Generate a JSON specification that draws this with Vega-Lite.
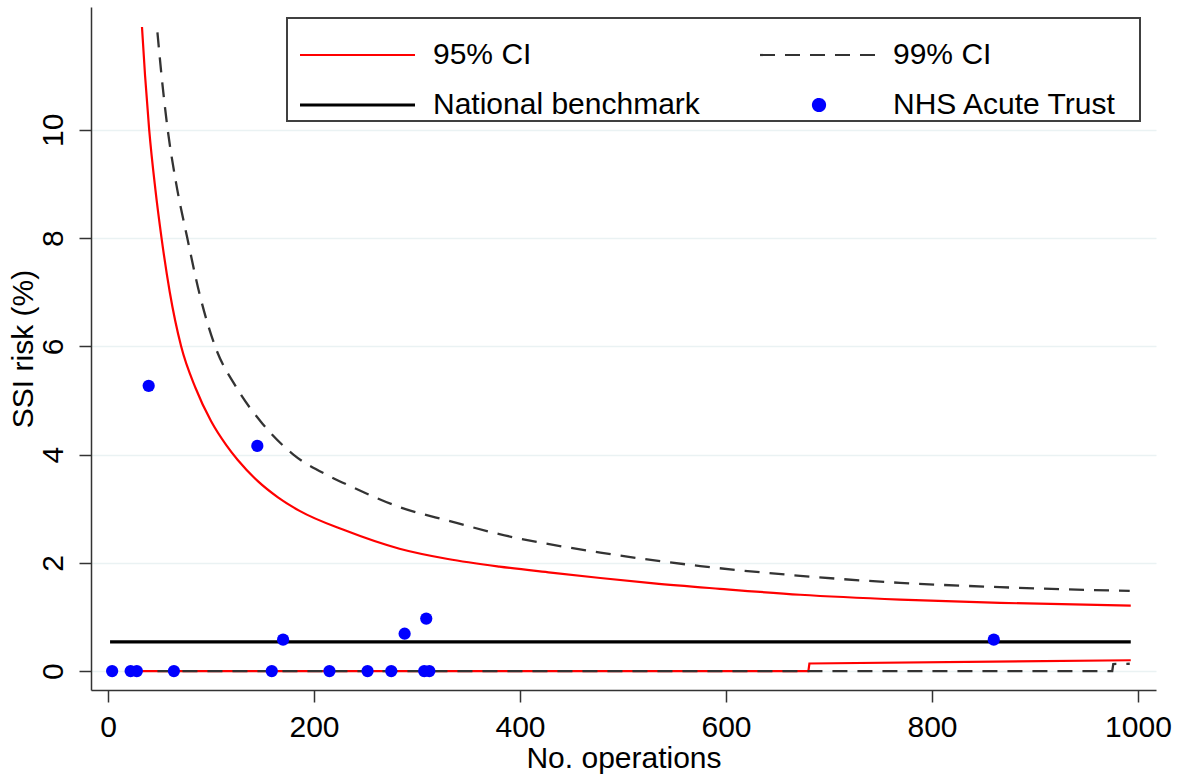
{
  "$schema": "https://vega.github.io/schema/vega-lite/v6.json",
  "width": 1065,
  "height": 683,
  "autosize": {"type": "none"},
  "padding": {"left": 91, "top": 7, "right": 22, "bottom": 88},
  "background": "white",
  "config": {"view": {"stroke": null}, "font": "Liberation Sans"},
  "datasets": {
    "ci95": [
      {"series": "95% CI", "part": "upper", "n": 33, "risk": 11.9},
      {"series": "95% CI", "part": "upper", "n": 36, "risk": 11.0},
      {"series": "95% CI", "part": "upper", "n": 40, "risk": 10.0},
      {"series": "95% CI", "part": "upper", "n": 46, "risk": 8.9},
      {"series": "95% CI", "part": "upper", "n": 52, "risk": 8.0},
      {"series": "95% CI", "part": "upper", "n": 60, "risk": 7.0},
      {"series": "95% CI", "part": "upper", "n": 71, "risk": 6.0},
      {"series": "95% CI", "part": "upper", "n": 85, "risk": 5.23},
      {"series": "95% CI", "part": "upper", "n": 100, "risk": 4.62},
      {"series": "95% CI", "part": "upper", "n": 115, "risk": 4.17},
      {"series": "95% CI", "part": "upper", "n": 126, "risk": 3.9},
      {"series": "95% CI", "part": "upper", "n": 146, "risk": 3.5},
      {"series": "95% CI", "part": "upper", "n": 165, "risk": 3.21},
      {"series": "95% CI", "part": "upper", "n": 186, "risk": 2.96},
      {"series": "95% CI", "part": "upper", "n": 230, "risk": 2.6},
      {"series": "95% CI", "part": "upper", "n": 283, "risk": 2.26},
      {"series": "95% CI", "part": "upper", "n": 330, "risk": 2.07},
      {"series": "95% CI", "part": "upper", "n": 380, "risk": 1.93},
      {"series": "95% CI", "part": "upper", "n": 430, "risk": 1.82},
      {"series": "95% CI", "part": "upper", "n": 478, "risk": 1.72},
      {"series": "95% CI", "part": "upper", "n": 530, "risk": 1.62},
      {"series": "95% CI", "part": "upper", "n": 594, "risk": 1.52},
      {"series": "95% CI", "part": "upper", "n": 672, "risk": 1.41},
      {"series": "95% CI", "part": "upper", "n": 769, "risk": 1.32},
      {"series": "95% CI", "part": "upper", "n": 866, "risk": 1.26},
      {"series": "95% CI", "part": "upper", "n": 993, "risk": 1.21},
      {"series": "95% CI", "part": "lower", "n": 33, "risk": 0},
      {"series": "95% CI", "part": "lower", "n": 680, "risk": 0},
      {"series": "95% CI", "part": "lower", "n": 681, "risk": 0.14},
      {"series": "95% CI", "part": "lower", "n": 993, "risk": 0.2}
    ],
    "ci99": [
      {"series": "99% CI", "part": "upper", "n": 48, "risk": 11.8},
      {"series": "99% CI", "part": "upper", "n": 52, "risk": 11.0},
      {"series": "99% CI", "part": "upper", "n": 58, "risk": 10.0},
      {"series": "99% CI", "part": "upper", "n": 66, "risk": 9.03},
      {"series": "99% CI", "part": "upper", "n": 77, "risk": 8.0},
      {"series": "99% CI", "part": "upper", "n": 89, "risk": 6.96},
      {"series": "99% CI", "part": "upper", "n": 104, "risk": 6.0},
      {"series": "99% CI", "part": "upper", "n": 125, "risk": 5.23},
      {"series": "99% CI", "part": "upper", "n": 150, "risk": 4.57},
      {"series": "99% CI", "part": "upper", "n": 180, "risk": 4.0},
      {"series": "99% CI", "part": "upper", "n": 214, "risk": 3.61},
      {"series": "99% CI", "part": "upper", "n": 235, "risk": 3.42},
      {"series": "99% CI", "part": "upper", "n": 283, "risk": 3.03},
      {"series": "99% CI", "part": "upper", "n": 332, "risk": 2.77},
      {"series": "99% CI", "part": "upper", "n": 380, "risk": 2.53},
      {"series": "99% CI", "part": "upper", "n": 478, "risk": 2.19},
      {"series": "99% CI", "part": "upper", "n": 575, "risk": 1.94},
      {"series": "99% CI", "part": "upper", "n": 672, "risk": 1.76},
      {"series": "99% CI", "part": "upper", "n": 769, "risk": 1.63},
      {"series": "99% CI", "part": "upper", "n": 866, "risk": 1.55},
      {"series": "99% CI", "part": "upper", "n": 992, "risk": 1.48},
      {"series": "99% CI", "part": "lower", "n": 48, "risk": 0},
      {"series": "99% CI", "part": "lower", "n": 975, "risk": 0},
      {"series": "99% CI", "part": "lower", "n": 976, "risk": 0.13},
      {"series": "99% CI", "part": "lower", "n": 992, "risk": 0.135}
    ],
    "bench": [
      {"series": "National benchmark", "n": 2, "risk": 0.54},
      {"series": "National benchmark", "n": 993, "risk": 0.54}
    ],
    "trusts": [
      {"series": "NHS Acute Trust", "n": 4, "risk": 0},
      {"series": "NHS Acute Trust", "n": 22, "risk": 0},
      {"series": "NHS Acute Trust", "n": 28, "risk": 0},
      {"series": "NHS Acute Trust", "n": 64, "risk": 0},
      {"series": "NHS Acute Trust", "n": 159, "risk": 0},
      {"series": "NHS Acute Trust", "n": 215, "risk": 0},
      {"series": "NHS Acute Trust", "n": 252, "risk": 0},
      {"series": "NHS Acute Trust", "n": 275, "risk": 0},
      {"series": "NHS Acute Trust", "n": 307, "risk": 0},
      {"series": "NHS Acute Trust", "n": 312, "risk": 0},
      {"series": "NHS Acute Trust", "n": 39.5, "risk": 5.27},
      {"series": "NHS Acute Trust", "n": 145, "risk": 4.16},
      {"series": "NHS Acute Trust", "n": 170, "risk": 0.58},
      {"series": "NHS Acute Trust", "n": 288, "risk": 0.69},
      {"series": "NHS Acute Trust", "n": 309, "risk": 0.97},
      {"series": "NHS Acute Trust", "n": 860, "risk": 0.58}
    ]
  },
  "encoding": {
    "x": {
      "field": "n", "type": "quantitative",
      "scale": {"domain": [-16.5, 1017.5], "nice": false, "zero": false},
      "axis": {
        "values": [0, 200, 400, 600, 800, 1000],
        "format": "d",
        "title": "No. operations",
        "titleFontSize": 30, "titleFontWeight": "normal", "titleColor": "black", "titlePadding": 1,
        "labelFontSize": 30, "labelColor": "black", "labelPadding": 10, "labelFlush": false,
        "tickSize": 12, "tickColor": "#333333", "tickWidth": 1.5,
        "domainColor": "#333333", "domainWidth": 1.5,
        "grid": false
      }
    },
    "y": {
      "field": "risk", "type": "quantitative",
      "scale": {"domain": [-0.35, 12.27], "nice": false, "zero": false},
      "axis": {
        "values": [0, 2, 4, 6, 8, 10],
        "title": "SSI risk (%)",
        "titleFontSize": 30, "titleFontWeight": "normal", "titleColor": "black", "titlePadding": 0,
        "labelFontSize": 30, "labelColor": "black", "labelAngle": 270, "labelAlign": "center", "labelBaseline": "bottom", "labelPadding": 11,
        "tickSize": 12, "tickColor": "#333333", "tickWidth": 1.5,
        "domainColor": "#333333", "domainWidth": 1.5,
        "grid": true, "gridColor": "#eaf2f3", "gridWidth": 1.5
      }
    }
  },
  "layer": [
    {
      "data": {"name": "ci95"},
      "transform": [{"filter": "datum.part === 'upper'"}],
      "mark": {"type": "line", "strokeWidth": 2.2, "interpolate": "monotone"},
      "encoding": {
        "color": {
          "field": "series", "type": "nominal",
          "scale": {
            "domain": ["95% CI", "National benchmark", "99% CI", "NHS Acute Trust"],
            "range": ["#ff0000", "#000000", "#333333", "#0000ff"]
          },
          "legend": {
            "title": " ", "titleFontSize": 17, "titlePadding": 4,
            "orient": "none", "legendX": 196, "legendY": 11,
            "columns": 2, "columnPadding": 48, "rowPadding": 20,
            "padding": 1, "strokeColor": "#404040", "fillColor": "white",
            "symbolSize": 100, "symbolStrokeWidth": 2.2,
            "labelFontSize": 30, "labelFont": "Liberation Sans", "labelColor": "black",
            "labelOffset": 115, "labelLimit": 0,
            "encode": {
              "legend": {"update": {"strokeWidth": {"value": 2}}},
              "labels": {"update": {
                "text": {"signal": "datum.value === 'NHS Acute Trust' ? datum.label + '\u2800' : datum.label"}
              }},
              "symbols": {"update": {
                "shape": {"signal": "datum.value === 'NHS Acute Trust' ? 'M10,0A1.2,1.2 0 1,1 12.4,0A1.2,1.2 0 1,1 10,0Z' : 'M-0.6,0H22.4'"},
                "fill": {"signal": "datum.value === 'NHS Acute Trust' ? '#0000ff' : 'transparent'"},
                "strokeDash": {"signal": "datum.value === '99% CI' ? [15,10] : [1,0]"},
                "strokeWidth": {"signal": "datum.value === 'National benchmark' ? 3 : 2.2"}
              }}
            }
          }
        }
      }
    },
    {
      "data": {"name": "ci95"},
      "transform": [{"filter": "datum.part === 'lower'"}],
      "mark": {"type": "line", "strokeWidth": 2.2},
      "encoding": {
        "color": {"field": "series", "type": "nominal"}
      }
    },
    {
      "data": {"name": "ci99"},
      "transform": [{"filter": "datum.part === 'upper'"}],
      "mark": {"type": "line", "strokeWidth": 2.3, "strokeDash": [15, 10], "interpolate": "monotone"},
      "encoding": {
        "color": {"field": "series", "type": "nominal"}
      }
    },
    {
      "data": {"name": "ci99"},
      "transform": [{"filter": "datum.part === 'lower'"}],
      "mark": {"type": "line", "strokeWidth": 2.3, "strokeDash": [15, 10]},
      "encoding": {
        "color": {"field": "series", "type": "nominal"}
      }
    },
    {
      "data": {"name": "bench"},
      "mark": {"type": "line", "strokeWidth": 3.3},
      "encoding": {
        "color": {"field": "series", "type": "nominal"}
      }
    },
    {
      "data": {"name": "trusts"},
      "mark": {"type": "point", "filled": true, "size": 150, "opacity": 1},
      "encoding": {
        "color": {"field": "series", "type": "nominal"}
      }
    }
  ]
}
